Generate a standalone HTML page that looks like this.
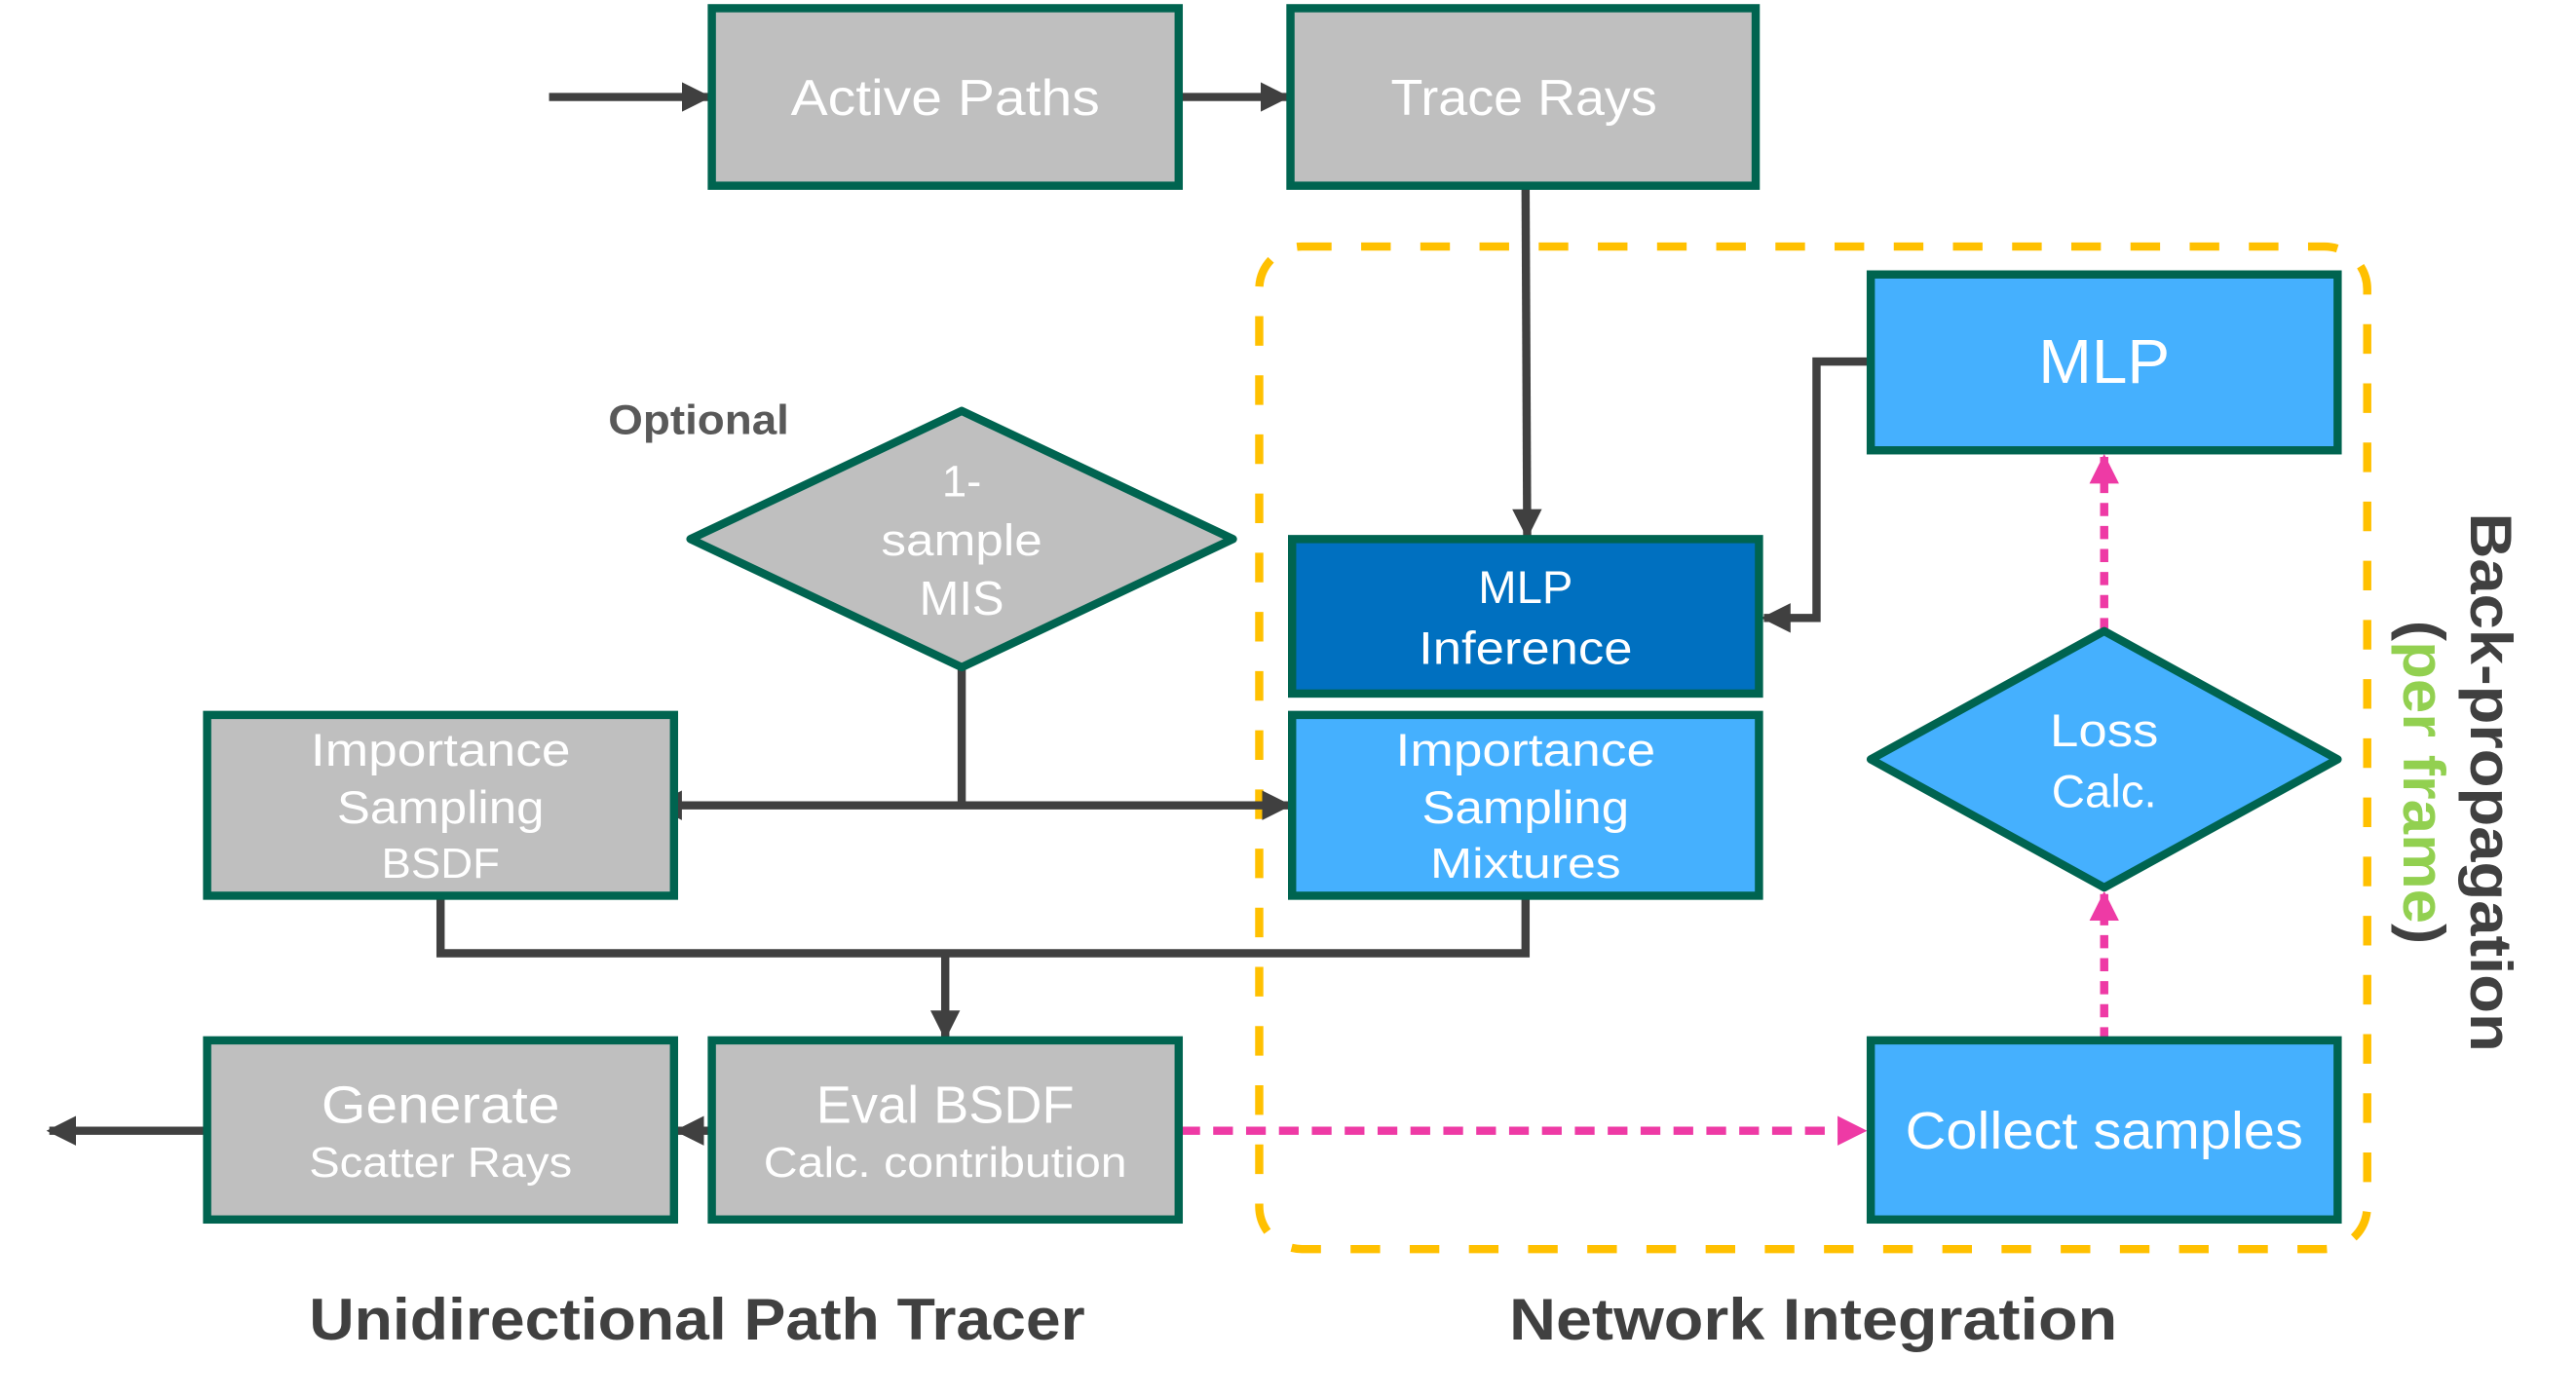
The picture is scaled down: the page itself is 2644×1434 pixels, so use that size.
<!DOCTYPE html>
<html><head><meta charset="utf-8"><style>
html,body{margin:0;padding:0;background:#fff;}
svg{display:block;}
text{font-family:"Liberation Sans",sans-serif;}
</style></head><body>
<svg width="2644" height="1434" viewBox="0 0 1567 850" preserveAspectRatio="none" xmlns="http://www.w3.org/2000/svg">
<defs>
<marker id="ah" viewBox="0 0 10 10" refX="9" refY="5" markerWidth="3.6" markerHeight="3.6" orient="auto" markerUnits="strokeWidth"><path d="M0,0 L10,5 L0,10 z" fill="#404040"/></marker>
<marker id="ahs" viewBox="0 0 10 10" refX="1" refY="5" markerWidth="3.6" markerHeight="3.6" orient="auto-start-reverse" markerUnits="strokeWidth"><path d="M0,0 L10,5 L0,10 z" fill="#404040"/></marker>
<marker id="ap" viewBox="0 0 10 10" refX="9" refY="5" markerWidth="3.6" markerHeight="3.6" orient="auto" markerUnits="strokeWidth"><path d="M0,0 L10,5 L0,10 z" fill="#ee3aa5"/></marker>
</defs>

<rect x="766" y="150" width="674" height="610" rx="26" fill="none" stroke="#ffc000" stroke-width="5" stroke-dasharray="18,18"/>

<g stroke="#404040" stroke-width="5" fill="none">
<line x1="334" y1="59" x2="431" y2="59" marker-end="url(#ah)"/>
<line x1="717" y1="59" x2="783" y2="59" marker-end="url(#ah)"/>
<line x1="928" y1="113" x2="929" y2="326" marker-end="url(#ah)"/>
<polyline points="1138,220 1105,220 1105,376 1073,376" marker-end="url(#ah)"/>
<line x1="585" y1="406" x2="585" y2="490"/>
<line x1="413" y1="490" x2="784" y2="490" marker-end="url(#ah)" marker-start="url(#ahs)"/>
<polyline points="268,545 268,580 928,580 928,545"/>
<line x1="575" y1="580" x2="575" y2="631" marker-end="url(#ah)"/>
<line x1="433" y1="688" x2="412" y2="688" marker-end="url(#ah)"/>
<line x1="126" y1="688" x2="30" y2="688" marker-end="url(#ah)"/>
</g>

<g stroke="#ee3aa5" stroke-width="5" fill="none">
<line x1="718" y1="688" x2="1134" y2="688" stroke-dasharray="12,8" marker-end="url(#ap)"/>
<line x1="1280" y1="633" x2="1280" y2="544" stroke-dasharray="8,6" marker-end="url(#ap)"/>
<line x1="1280" y1="384" x2="1280" y2="278" stroke-dasharray="8,6" marker-end="url(#ap)"/>
</g>

<g stroke="#006450" stroke-width="5">
<rect x="433" y="5" width="284" height="108" fill="#bfbfbf"/>
<rect x="785" y="5" width="283" height="108" fill="#bfbfbf"/>
<rect x="1138" y="167" width="284" height="107" fill="#45b0fe"/>
<rect x="786" y="328" width="284" height="94" fill="#0070c0"/>
<rect x="786" y="435" width="284" height="110" fill="#45b0fe"/>
<rect x="126" y="435" width="284" height="110" fill="#bfbfbf"/>
<rect x="126" y="633" width="284" height="109" fill="#bfbfbf"/>
<rect x="433" y="633" width="284" height="109" fill="#bfbfbf"/>
<rect x="1138" y="633" width="284" height="109" fill="#45b0fe"/>
<polygon points="585,250 750,328 585,406 420,328" fill="#bfbfbf" stroke-linejoin="round"/>
<polygon points="1280,384 1422,462 1280,540 1138,462" fill="#45b0fe" stroke-linejoin="round"/>
</g>

<g fill="#fff" text-anchor="middle">
<text x="575" y="70" font-size="31" textLength="188" lengthAdjust="spacingAndGlyphs">Active Paths</text>
<text x="927" y="70" font-size="31" textLength="162" lengthAdjust="spacingAndGlyphs">Trace Rays</text>
<text x="585" y="302" font-size="27">1-</text>
<text x="585" y="338" font-size="27" textLength="98" lengthAdjust="spacingAndGlyphs">sample</text>
<text x="585" y="374" font-size="29">MIS</text>
<text x="1280" y="233" font-size="38" textLength="80" lengthAdjust="spacingAndGlyphs">MLP</text>
<text x="928" y="367" font-size="28">MLP</text>
<text x="928" y="404" font-size="28" textLength="130" lengthAdjust="spacingAndGlyphs">Inference</text>
<text x="268" y="466" font-size="28" textLength="158" lengthAdjust="spacingAndGlyphs">Importance</text>
<text x="268" y="501" font-size="28" textLength="126" lengthAdjust="spacingAndGlyphs">Sampling</text>
<text x="268" y="534" font-size="26" textLength="72" lengthAdjust="spacingAndGlyphs">BSDF</text>
<text x="928" y="466" font-size="28" textLength="158" lengthAdjust="spacingAndGlyphs">Importance</text>
<text x="928" y="501" font-size="28" textLength="126" lengthAdjust="spacingAndGlyphs">Sampling</text>
<text x="928" y="534" font-size="26" textLength="116" lengthAdjust="spacingAndGlyphs">Mixtures</text>
<text x="1280" y="454" font-size="28" textLength="66" lengthAdjust="spacingAndGlyphs">Loss</text>
<text x="1280" y="491" font-size="28" textLength="64" lengthAdjust="spacingAndGlyphs">Calc.</text>
<text x="268" y="683" font-size="32" textLength="145" lengthAdjust="spacingAndGlyphs">Generate</text>
<text x="268" y="716" font-size="26" textLength="160" lengthAdjust="spacingAndGlyphs">Scatter Rays</text>
<text x="575" y="683" font-size="32" textLength="157" lengthAdjust="spacingAndGlyphs">Eval BSDF</text>
<text x="575" y="716" font-size="26" textLength="221" lengthAdjust="spacingAndGlyphs">Calc. contribution</text>
<text x="1280" y="699" font-size="32" textLength="242" lengthAdjust="spacingAndGlyphs">Collect samples</text>
</g>

<text x="370" y="264" font-size="25" font-weight="bold" fill="#595959" textLength="110" lengthAdjust="spacingAndGlyphs">Optional</text>
<text x="424" y="815" font-size="36" font-weight="bold" fill="#404040" text-anchor="middle" textLength="472" lengthAdjust="spacingAndGlyphs">Unidirectional Path Tracer</text>
<text x="1103" y="815" font-size="36" font-weight="bold" fill="#404040" text-anchor="middle" textLength="370" lengthAdjust="spacingAndGlyphs">Network Integration</text>

<g transform="translate(1503,476) rotate(90)">
<text x="0" y="0" font-size="36" font-weight="bold" fill="#404040" text-anchor="middle" textLength="328" lengthAdjust="spacingAndGlyphs">Back-propagation</text>
</g>
<g transform="translate(1462,476) rotate(90)">
<text x="0" y="0" font-size="36" font-weight="bold" text-anchor="middle" textLength="197" lengthAdjust="spacingAndGlyphs"><tspan fill="#404040">(</tspan><tspan fill="#92d050">per frame</tspan><tspan fill="#404040">)</tspan></text>
</g>
</svg>
</body></html>
